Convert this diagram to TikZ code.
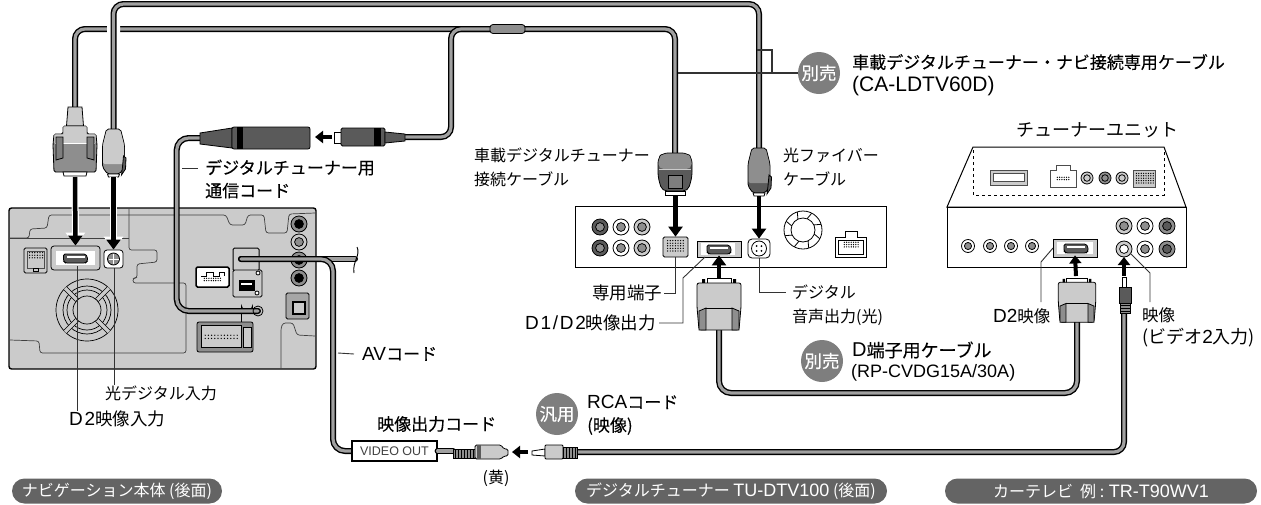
\documentclass[tikz,border=0pt]{standalone}
\usepackage{fontspec}
\setmainfont{Noto Sans CJK JP}
\newfontfamily\medfont[FakeBold=.25]{Noto Sans CJK JP}
\newfontfamily\latn{Liberation Sans}
\newfontfamily\latnwide[LetterSpace=9]{Liberation Sans}
\usetikzlibrary{arrows.meta,positioning}
\definecolor{bodygray}{HTML}{CBCBCB}
\definecolor{wiregray}{HTML}{A0A0A0}
\definecolor{darkpart}{HTML}{5A5A5A}
\definecolor{midpart}{HTML}{8E8E8E}
\definecolor{tabgray}{HTML}{7E7E7E}
\definecolor{pillgray}{HTML}{646464}
\tikzset{
  cable/.style={line width=6pt,rounded corners=#1,line cap=round,postaction={draw=wiregray,line width=3.2pt}},
  cable/.default=10pt,
  partline/.style={draw=black,line width=.8pt},
  bodyline/.style={draw=black!75,line width=.7pt,rounded corners=2.5pt},
  leader/.style={draw=black!80,line width=.9pt},
  lbl/.style={inner sep=0pt,anchor=west,align=left,font=\fontsize{16}{24}\selectfont},
  lblb/.style={lbl,font=\medfont\fontsize{17}{23}\selectfont},
  tag/.style={circle,fill=tabgray,text=white,minimum size=42pt,inner sep=0pt,font=\medfont\fontsize{17.5}{17.5}\selectfont},
  pill/.style={rounded corners=12.5pt,fill=pillgray,text=white,minimum height=25pt,inner sep=0pt,font=\fontsize{16}{16}\selectfont},
  portbox/.style={draw=black,line width=.8pt,inner sep=0pt,rounded corners=1.5pt},
  halo/.style={draw=white,line width=#1},
  bigarrow/.style={line width=4.5pt,-{Triangle[width=14pt,length=10pt]}},
  bigback/.style={white,line width=7pt,-{Triangle[width=19pt,length=13pt]}},
  smallarrow/.style={line width=4pt,-{Triangle[width=12pt,length=8pt]}}
}
\newcommand{\la}[2][19]{{\latn\fontsize{#1}{#1}\selectfont #2}}
\newcommand{\law}[2][19]{{\latnwide\fontsize{#1}{#1}\selectfont #2}}
\newcommand{\rcajack}[5]{%
  \draw[partline,fill=#4] (#1,#2) circle (#3);
  \draw[partline,fill=#5] (#1,#2) circle (#3*.55);}
\newcommand{\pindots}[5]{%
  \foreach \i in {1,...,#3} \foreach \j in {1,...,#4}
    \fill (#1+\i*#5,#2+\j*#5) circle (.7);}
\newcommand{\dshell}[2]{%
  \draw[partline,fill=darkpart,rounded corners=1.5pt] (#1-12,#2-4) -- (#1+10,#2-4) -- (#1+12,#2-1) -- (#1+12,#2+3) -- (#1+10,#2+5) -- (#1-10,#2+5) -- (#1-12,#2+3) -- cycle;
  \fill[white] (#1-9,#2-2) rectangle (#1+9,#2);}
\newcommand{\dplugdown}[2]{\begin{scope}[shift={(#1,#2)}]
  \draw[partline,fill=bodygray] (-7,0) -- (7,0) -- (8.5,19) -- (-8.5,19) -- cycle;
  \draw[partline,fill=midpart,rounded corners=1.5pt] (-12,19) -- (12,19) -- (12,27) -- (21,27) -- (22,38) -- (21,65) -- (-21,65) -- (-22,38) -- (-21,27) -- (-12,27) -- cycle;
  \fill[bodygray] (-11.6,19.4) -- (11.6,19.4) -- (11.6,27.4) -- (20.6,27.4) -- (20.6,36) -- (-20.6,36) -- (-20.6,27.4) -- (-11.6,27.4) -- cycle;
  \draw[white,line width=.8pt] (-20,36) -- (20,36);
  \draw[partline,fill=tabgray] (-19,30) -- (-12,30) -- (-12,51) -- (-19,53) -- cycle;
  \draw[partline,fill=tabgray] (19,30) -- (12,30) -- (12,51) -- (19,53) -- cycle;
  \draw[partline,fill=white] (-12,65) -- (12,65) -- (11,69) -- (-11,69) -- cycle;
\end{scope}}
\newcommand{\optplug}[4]{\begin{scope}[shift={(#1,#2)}]
  \draw[partline,fill=#4,rounded corners=2pt] (-7,0) -- (7,0) -- (11,16) -- (11,38) -- (6,45) -- (-6,45) -- (-11,38) -- (-11,16) -- cycle;
  \fill[#3,rounded corners=2pt] (-6.6,.5) -- (6.6,.5) -- (10.5,16) -- (10.5,35) -- (-10.5,35) -- (-10.5,16) -- cycle;
  \draw[partline,fill=darkpart] (10,27) -- (12.5,29) -- (12,40) -- (8,46) -- (9,38) -- cycle;
  \draw[partline,fill=white] (-6,45) -- (6,45) -- (5,48) -- (-5,48) -- cycle;
\end{scope}}
\newcommand{\dcapdown}[2]{\begin{scope}[shift={(#1,#2)}]
  \draw[partline,fill=darkpart,rounded corners=5pt] (-12,0) -- (12,0) -- (17,5) -- (17,24) -- (13,38) -- (-13,38) -- (-17,24) -- (-17,5) -- cycle;
  \fill[midpart,rounded corners=5pt] (-12,.5) -- (12,.5) -- (16.5,5) -- (16.5,16) -- (-16.5,16) -- (-16.5,5) -- cycle;
  \draw[bodygray,line width=.8pt] (-16,16) -- (16,16);
  \draw[partline,fill=tabgray] (-7,22) -- (7,22) -- (7,35) -- (-7,35) -- cycle;
  \draw[partline,fill=white] (-10,38) -- (10,38) -- (10,42) -- (-10,42) -- cycle;
\end{scope}}
\newcommand{\dplugup}[3]{\begin{scope}[shift={(#1,#2)},scale=#3]
  \draw[partline,fill=white] (-12,0) -- (12,0) -- (12,6) -- (-12,6) -- cycle;
  \fill (-17,1) rectangle (-14,6) (14,1) rectangle (17,6);
  \draw[partline,fill=bodygray,rounded corners=2pt] (-22,5) -- (22,5) -- (22,29) -- (20,52) -- (-20,52) -- (-22,29) -- cycle;
  \draw[partline,fill=midpart] (-20,33) -- (-13,30) -- (-13,52) -- (-20,52) -- cycle;
  \draw[partline,fill=midpart] (20,33) -- (13,30) -- (13,52) -- (20,52) -- cycle;
  \draw[partline] (-13,30) -- (13,30);
\end{scope}}
\begin{document}
\begin{tikzpicture}[x=1pt,y=-1pt]
\useasboundingbox (0,0) rectangle (1261,504);
\coordinate (topRail) at (0,4);
\coordinate (midRail) at (0,29);
% navigation unit
\draw[black,line width=1.4pt,fill=bodygray,rounded corners=2.5pt] (9,208) rectangle (316,369);
\draw[bodyline] (10,238) -- (129,238);
\draw[bodyline] (10,238) -- (29,238) -- (30,229) -- (47,228) -- (49,215) -- (226,215) -- (230,225) -- (245,225) -- (248,215) -- (264,215) -- (266,233) -- (287,233) -- (289,214) -- (315,213);
\draw[bodyline] (129,209) -- (129,250) -- (157,250) -- (157,262) -- (137,264) -- (137,278) -- (133,278) -- (133,283) -- (186,283) -- (186,353) -- (40,353) -- (39,341) -- (10,340);
\draw[bodyline] (315,336) -- (297,335) -- (293,323) -- (283,323) -- (281,328) -- (281,368);
\begin{scope}[shift={(87,310)}]
  \foreach \r in {31,24,20} \draw[partline,line width=.7pt] (0,0) circle (\r);
  \foreach \a in {45,135,225,315} \draw[line width=.7pt,double=bodygray,double distance=3.5pt] (\a:14) -- (\a:31);
  \fill[bodygray] (0,0) circle (13);
  \draw[partline,line width=.7pt] (0,0) circle (14);
\end{scope}
\node[portbox,fill=bodygray,minimum width=23pt,minimum height=25pt] (navPins) at (35.5,260.5) {};
\draw[black!70,line width=.8pt] (27,251) rectangle (44,268);
\pindots{27}{250}{6}{3}{2.6}
\draw[partline] (33,268) rectangle (38,271);
\node[portbox,fill=bodygray,minimum width=49pt,minimum height=24pt,rounded corners=3pt] (navD2) at (75.5,258) {};
\fill[white] (56,251) rectangle (95,265);
\dshell{75.5}{258}
\node[portbox,fill=white,minimum width=19pt,minimum height=18pt,rounded corners=3pt] (navOpt) at (113.5,259) {};
\draw[partline,fill=midpart] (113.5,259) circle (6);
\draw[partline,white,line width=.8pt] (113.5,254) -- (113.5,264) (108.5,259) -- (118.5,259);
\node[portbox,fill=bodygray,minimum width=26pt,minimum height=23pt,line width=1pt] (navSock) at (246,259.5) {};
\node[portbox,fill=white,minimum width=33pt,minimum height=20pt,line width=1.5pt] (navHdr) at (212.5,277) {};
\draw[partline] (201,276) -- (206,276) -- (206,272) -- (213,272) -- (213,276) -- (219,276) -- (219,272) -- (224,272) -- (224,276);
\pindots{202}{276}{8}{2}{2.3}
\node[portbox,fill=bodygray,minimum width=29pt,minimum height=27pt] (navBoard) at (247.5,283.5) {};
\draw[partline,fill=black] (239,280) rectangle (254,290);
\fill[white] (241,283) rectangle (252,285);
\draw[partline,fill=white] (258,273) circle (2) (257,293) circle (2);
\foreach \yy in {224,260,278} {\rcajack{299}{\yy}{8}{midpart}{black}}
\rcajack{299}{242}{8}{bodygray}{midpart}
\node[portbox,fill=midpart,fill opacity=.6,text opacity=1,minimum width=23pt,minimum height=26pt] (navSq) at (297.5,306) {};
\draw[partline,line width=1.4pt,fill=bodygray] (293,302) rectangle (305,314);
\draw[partline] (241.5,322) -- (241.5,306) arc (180:0:5.5) -- (252.5,312);
\node[portbox,fill=bodygray!70!black,minimum width=56pt,minimum height=30pt,rounded corners=2pt] (navLow) at (225,337) {};
\draw[partline,fill=bodygray] (201,325) rectangle (241,347);
\pindots{202}{332}{11}{2}{3.2}
\draw[partline,fill=bodygray] (243,327) rectangle (251,347);
% top cables
\draw[cable] (75,107) -- (75,29) -- (675,29) -- (675,153);
\coordinate (plugOptL) at (113.5,129);
\coordinate (plugOptC) at (759,148);
\draw[halo=13pt,rounded corners=10pt] (plugOptL) -- (plugOptL |- topRail) -- (plugOptC |- topRail);
\draw[cable] (plugOptL) -- (plugOptL |- topRail) -- (plugOptC |- topRail) -- (plugOptC);
\coordinate (plugCommR) at (405,137);
\coordinate (commBend) at (451,137);
\coordinate (tubeIn) at (490,29);
\draw[cable] (plugCommR) -- (commBend) -- (commBend |- midRail) -- (tubeIn);
\node[partline,fill=midpart,rounded corners=3pt,minimum width=35pt,minimum height=9pt,inner sep=0pt] (cableTube) at (507.5,29) {};
% tuner box
\draw[black,line width=1pt,fill=white] (575,206) rectangle (886,267);
\foreach \yy in {227,248} {
  \rcajack{600}{\yy}{8}{darkpart}{midpart}
  \rcajack{621}{\yy}{8}{white}{midpart}
  \rcajack{642}{\yy}{8}{bodygray}{midpart}
}
\node[portbox,fill=bodygray,minimum width=25pt,minimum height=20pt] (cenPins) at (675.5,247) {};
\pindots{665}{238}{7}{5}{2.6}
\node[portbox,fill=bodygray,minimum width=44pt,minimum height=16pt,rounded corners=0pt] (cenD2) at (719,249) {};
\fill[white] (701,243) -- (735,243) -- (735,255) -- (701,255) -- cycle;
\dshell{719}{249}
\node[portbox,fill=white,minimum width=22pt,minimum height=19pt,rounded corners=4pt] (cenOpt) at (759,248.5) {};
\draw[partline] (759,248.5) circle (7.5);
\foreach \a in {45,135,225,315} \fill (759,248.5) ++(\a:3.5) circle (1);
\begin{scope}[shift={(803,230)}]
  \draw[partline] (0,0) circle (19) (0,0) circle (12);
  \foreach \a in {20,65,...,335} \draw[partline] (\a:12) -- ++(\a+20:7);
\end{scope}
\draw[partline,fill=white] (835,237) -- (845,237) -- (845,231) -- (857,231) -- (857,237) -- (866,237) -- (866,257) -- (835,257) -- cycle;
\pindots{842}{240}{7}{3}{2.3}
\draw[partline] (838,240) rectangle (863,254);
\dcapdown{675}{153}
\optplug{759}{148}{midpart}{darkpart}
\dplugdown{75}{107}
\optplug{113.5}{129}{bodygray}{midpart}
% drop arrows
\draw[bigback] (75,177) -- (navD2.north);
\draw[bigarrow] (75,177) -- (navD2.north);
\draw[bigback] (113.5,177) -- (navOpt.north);
\draw[bigarrow] (113.5,177) -- (navOpt.north);
\draw[bigarrow] (675.5,195) -- (cenPins.north);
\draw[bigarrow] (759,196) -- (cenOpt.north);
\draw[bigarrow] (719,278) -- ([yshift=2pt]cenD2.south);
% comm plugs
\draw[cable=12pt] (200,138) -- (176.7,138) -- (176.7,311) -- (258,311);
\draw[partline] (258,311) circle (5);
\draw[partline,fill=black!65] (200,133) -- (232,128) -- (232,148) -- (200,144) -- cycle;
\draw[partline,fill=darkpart,rounded corners=2pt] (232,127) rectangle (310,149);
\fill[black] (237,127) rectangle (243,149);
\draw[smallarrow] (332,137) -- (315,137);
\draw[partline,fill=white] (334,132) rectangle (341,143);
\draw[partline,fill=darkpart,rounded corners=1.5pt] (341,128) rectangle (385,146);
\fill[black] (374,128) rectangle (381,146);
\draw[partline,fill=black!65] (385,132) -- (405,134) -- (405,141) -- (385,143) -- cycle;
% tv unit
\draw[black,line width=1pt,fill=white] (973,147) -- (1164,147) -- (1186,207) -- (947,207) -- cycle;
\draw[line width=.7pt,dashed] (973,150) -- (973,195) -- (1164,195) -- (1164,150);
\draw[black!70,line width=.8pt,fill=bodygray] (990,170) rectangle (1027,185);
\draw[black!70,line width=.8pt,fill=white] (993,173) rectangle (1024,181);
\draw[black!70,line width=.8pt,fill=white] (1050,170) -- (1056,170) -- (1056,165) -- (1070,165) -- (1070,170) -- (1076,170) -- (1076,187) -- (1050,187) -- cycle;
\pindots{1055}{175}{6}{2}{2.3}
\rcajack{1087}{178}{6}{bodygray}{bodygray}
\rcajack{1105}{178}{6}{midpart}{midpart}
\rcajack{1122}{178}{6}{bodygray}{bodygray}
\draw[black!70,line width=.8pt,fill=bodygray] (1133,170) rectangle (1155,187);
\pindots{1134}{171}{8}{5}{2.4}
\draw[black,line width=1pt,fill=white] (947,207) rectangle (1186,267);
\foreach \xx in {968,990,1011,1032} {\rcajack{\xx}{246}{6.5}{white}{midpart}}
\rcajack{1124}{226}{8}{bodygray}{midpart}
\rcajack{1145}{226}{8}{white}{midpart}
\rcajack{1167}{226}{8}{midpart}{darkpart}
\rcajack{1124}{249}{8}{bodygray}{white}
\rcajack{1145}{249}{8}{white}{midpart}
\rcajack{1167}{249}{8}{midpart}{darkpart}
\node[portbox,fill=bodygray,minimum width=44pt,minimum height=18pt,rounded corners=0pt] (tvD2) at (1075,248) {};
\fill[white] (1057,242) rectangle (1093,254);
\dshell{1076}{248}
\coordinate (tvRca) at (1124,257);
\draw[smallarrow] (1076,276) -- ([yshift=2pt]tvD2.south);
\draw[smallarrow] (1124,276) -- (tvRca);
% lower cables
\draw[cable=12pt] (719,330) -- (719,393) -- (1077,393) -- (1077,322);
\dplugup{719}{278}{1}
\dplugup{1077}{278}{.85}
\coordinate (videoIn) at (352,451);
\coordinate (avStart) at (241,259);
\coordinate (avBend) at (333,259);
\coordinate (avCut) at (355,259);
\draw[cable] (avStart) -- (avCut);
\draw[cable=12pt] (avStart) -- (avBend) -- (avBend |- videoIn) -- (videoIn);
\draw[line width=.9pt] (357,247) .. controls (361,255) and (352,262) .. (354,273);
\node[draw=black,line width=1.2pt,fill=white,minimum width=85pt,minimum height=20pt,inner sep=0pt,text=black!75,font=\latn\fontsize{12.5}{12.5}\selectfont] (boxVideo) at (394.5,451) {VIDEO OUT};
\coordinate (plugVideo) at (453,451);
\draw[cable] (boxVideo.east) -- (plugVideo);
\draw[partline,fill=midpart] (453,449) rectangle (475,458);
\foreach \xx in {455,458,...,473} \draw[line width=.6pt] (\xx,449) -- (\xx,458);
\draw[partline,fill=bodygray,rounded corners=1.5pt] (475,445) -- (501,445) -- (504,449) -- (508,449) -- (508,456) -- (504,456) -- (501,459) -- (475,459) -- cycle;
\fill[darkpart] (477,445) rectangle (481,459);
\draw[smallarrow] (528,452) -- (512,452);
\draw[cable] (1124,313) -- (1124,452) -- (577,452);
\draw[partline,fill=white] (532,451) -- (545,449) -- (545,456) -- (532,455) -- cycle;
\draw[partline,fill=bodygray,rounded corners=1pt] (545,445) rectangle (563,459);
\draw[partline,fill=midpart] (563,447) rectangle (577,458);
\foreach \xx in {566,569,...,575} \draw[line width=.6pt] (\xx,447) -- (\xx,458);
\draw[partline,fill=white] (1122,277) rectangle (1126,287);
\draw[partline,fill=darkpart] (1119,287) rectangle (1131,303);
\draw[partline,fill=midpart] (1120,303) rectangle (1130,313);
\foreach \yy in {305,308,311} \draw[line width=.8pt] (1120,\yy) -- (1130,\yy);
% labels
\node[lblb] (lblComm) at (205,179) {デジタルチューナー用\\通信コード};
\node[lblb] (lblAv) at (362,354) {\la{AV}コード};
\node[lblb] (lblVideo) at (377,424) {映像出力コード};
\node[lbl] (lblOptIn) at (105,393) {光デジタル入力};
\node[lbl,font=\fontsize{17.5}{24}\selectfont] (lblD2In) at (69,419) {\law{D2}映像入力};
\node[lbl] (lblCar) at (474,167) {車載デジタルチューナー\\接続ケーブル};
\node[lbl] (lblFiber) at (783,167) {光ファイバー\\ケーブル};
\node[lbl,anchor=center,font=\fontsize{18}{18}\selectfont] (lblUnit) at (1097.5,130) {チューナーユニット};
\node[lbl,font=\fontsize{17.5}{17.5}\selectfont] (lblPins) at (592,293) {専用端子};
\node[lbl,font=\fontsize{17.5}{24}\selectfont] (lblD1D2) at (525,323) {\law{D1/D2}映像出力};
\node[lbl] (lblAudio) at (792,305) {デジタル\\音声出力(光)};
\node[lbl,font=\fontsize{16.5}{24}\selectfont] (lblTvD2) at (993,316) {\la{D2}映像};
\node[lbl,font=\fontsize{16.5}{22}\selectfont] (lblTvVid) at (1142,327) {映像\\{\fontsize{18}{22}\selectfont (ビデオ\la{2}入力)}};
\node[lblb] (lblTopCable) at (852,75) {車載デジタルチューナー・ナビ接続専用ケーブル\\\la[21]{(CA-LDTV60D)}};
\node[lblb,font=\medfont\fontsize{18}{23}\selectfont] (lblDCable) at (852,350) {\la[20]{D}端子用ケーブル};
\node[lbl] (lblDPart) at (851,373) {\la[18]{(RP-CVDG15A/30A)}};
\node[lblb] (lblRca) at (587,415) {\la{RCA}コード\\(映像)};
\node[lbl,anchor=center] (lblYellow) at (496,478) {(黄)};
\node[tag] (tagTop) at (819,73) {別売};
\node[tag] (tagD) at (822,361) {別売};
\node[tag] (tagRca) at (557,414) {汎用};
\node[pill,minimum width=210pt] (pillNav) at (117,491) {ナビゲーション本体 (後面)};
\node[pill,minimum width=312pt] (pillTuner) at (731,491) {デジタルチューナー \la[18]{TU-DTV100} (後面)};
\node[pill,minimum width=312pt] (pillTv) at (1101,491) {カーテレビ\ \ 例 : \la[18]{TR-T90WV1}};
% leaders
\coordinate (navD2Out) at (77,266);
\coordinate (navOptOut) at (114,268);
\draw[leader] (navD2Out) -- (navD2Out |- lblD2In.north);
\draw[leader] (navOptOut) -- (navOptOut |- lblOptIn.north);
\coordinate (commTap) at (182,168);
\draw[leader] (commTap) -- ([xshift=-7pt]lblComm.west |- commTap);
\coordinate (avTap) at (338,353);
\draw[leader] (avTap) -- ([xshift=-8pt]lblAv.west);
\coordinate (cableTap) at (678,73);
\coordinate (wireTap) at (757,50);
\coordinate (bracketKnee) at (772,73);
\draw[leader,line width=1.1pt] (cableTap) -- (tagTop.west);
\draw[leader,line width=1.1pt] (wireTap) -| (bracketKnee);
\draw[leader] (cenPins.south) |- ([xshift=2pt]lblPins.east);
\coordinate (cenD2Out) at (705,257);
\coordinate (cenD2Knee) at (683,278);
\draw[leader] (cenD2Out) -- (cenD2Knee) |- ([xshift=3pt]lblD1D2.east);
\coordinate (audioTap) at (786,292);
\draw[leader] (cenOpt.south) |- (audioTap);
\coordinate (tvD2Out) at (1053,248);
\coordinate (tvD2Knee) at (1041,262);
\coordinate (tvD2End) at (1041,302);
\coordinate (tvVidOut) at (1130,253);
\coordinate (tvVidKnee) at (1150,273);
\coordinate (tvVidEnd) at (1150,302);
\draw[leader] (tvD2Out) -- (tvD2Knee) -- (tvD2End);
\draw[leader] (tvVidOut) -- (tvVidKnee) -- (tvVidEnd);
\end{tikzpicture}
\end{document}
